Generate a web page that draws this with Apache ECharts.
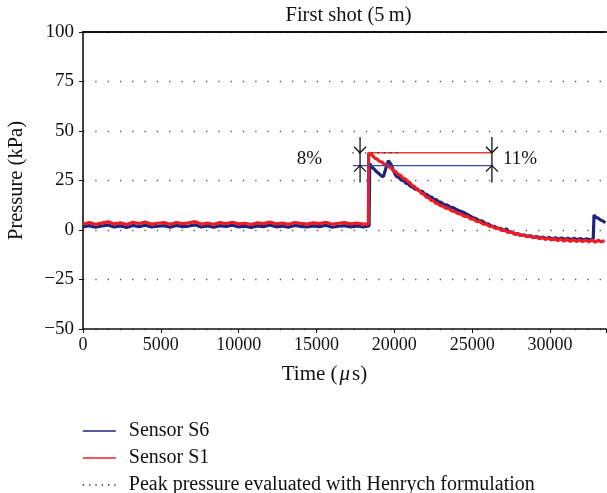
<!DOCTYPE html>
<html><head><meta charset="utf-8">
<script src="https://cdn.jsdelivr.net/npm/echarts@6/dist/echarts.min.js"></script>
<style>html,body{margin:0;padding:0;background:#fff}#c{width:607px;height:493px}</style>
</head><body><div id="c"></div>
<script>
const FONT = '"Liberation Serif", "DejaVu Serif", serif';

const yTickValues = [-50, -25, 0, 25, 50, 75, 100];
const xTickValues = [0, 5000, 10000, 15000, 20000, 25000, 30000];
const legendNames = ['Sensor S6', 'Sensor S1', 'Peak pressure evaluated with Henrych formulation'];

// Sensor S1 (red): [time µs, pressure kPa]
const sensorS1 = [
 [0,3.0],[400,3.8],[800,2.9],[1200,3.5],[1600,4.1],[2000,3.1],[2400,3.6],[2800,2.8],[3200,3.9],[3600,3.3],
 [4000,4.0],[4400,3.0],[4800,3.4],[5200,3.7],[5600,2.9],[6000,3.8],[6400,3.2],[6800,3.6],[7200,4.2],[7600,3.0],
 [8000,3.5],[8400,2.9],[8800,3.7],[9200,3.3],[9600,3.9],[10000,3.1],[10400,3.4],[10800,2.8],[11200,3.6],[11600,3.2],
 [12000,4.0],[12400,3.1],[12800,3.5],[13200,2.9],[13600,3.8],[14000,3.3],[14400,3.0],[14800,3.6],[15200,3.2],[15600,3.9],
 [16000,2.9],[16400,3.4],[16800,3.7],[17200,3.1],[17600,3.5],[18000,3.0],[18330,3.0],
 [18350,39.0],[18450,38.2],[18600,37.6],[18750,36.2],[18900,35.8],[19050,34.6],[19200,34.4],[19350,33.2],[19500,33.0],
 [19650,31.9],[19800,31.3],[19950,29.8],[20100,29.4],[20250,28.0],[20400,27.6],[20550,26.1],[20700,25.9],[20850,24.6],
 [21000,23.9],[21150,22.4],[21300,22.0],[21450,20.3],[21600,19.9],[21750,18.4],[21900,18.1],[22050,16.6],[22200,16.3],
 [22350,15.0],[22500,14.9],[22650,13.6],[22800,13.4],[22950,12.3],[23100,12.2],[23300,11.0],[23500,10.9],[23700,9.6],
 [23900,9.3],[24100,8.2],[24300,8.0],[24500,6.9],[24700,6.9],[24900,5.6],[25100,5.5],[25300,4.3],[25500,4.2],
 [25700,3.0],[25900,3.0],[26100,1.9],[26300,1.8],[26500,0.8],[26700,0.9],[26900,-0.3],[27100,-0.1],[27300,-1.2],
 [27500,-0.9],[27700,-2.0],[27900,-1.8],[28100,-2.8],[28300,-2.4],[28500,-3.4],[28700,-2.9],[28900,-3.9],[29100,-3.4],
 [29300,-4.4],[29500,-3.8],[29700,-4.8],[29900,-4.0],[30100,-5.1],[30300,-4.4],[30500,-5.4],[30700,-4.6],[30900,-5.6],
 [31100,-4.8],[31300,-5.7],[31500,-4.9],[31700,-5.8],[31900,-5.0],[32100,-5.9],[32300,-5.1],[32500,-6.0],[32700,-5.0],
 [32900,-6.1],[33100,-5.2],[33300,-6.0],[33500,-5.3]
];

// Sensor S6 (blue): [time µs, pressure kPa]
const sensorS6 = [
 [0,1.6],[400,2.2],[800,1.4],[1200,2.0],[1600,2.5],[2000,1.5],[2400,2.1],[2800,1.3],[3200,2.3],[3600,1.7],
 [4000,2.4],[4400,1.5],[4800,1.9],[5200,2.2],[5600,1.4],[6000,2.3],[6400,1.7],[6800,2.0],[7200,2.6],[7600,1.5],
 [8000,2.0],[8400,1.4],[8800,2.2],[9200,1.8],[9600,2.4],[10000,1.6],[10400,1.9],[10800,1.3],[11200,2.1],[11600,1.7],
 [12000,2.5],[12400,1.6],[12800,2.0],[13200,1.4],[13600,2.3],[14000,1.8],[14400,1.5],[14800,2.1],[15200,1.7],[15600,2.4],
 [16000,1.4],[16400,1.9],[16800,2.2],[17200,1.6],[17600,2.0],[18000,1.5],[18380,2.0],
 [18420,33.5],[18550,32.0],[18700,30.8],[18850,29.5],[19000,28.6],[19150,27.5],[19290,26.9],[19400,29.5],[19500,32.5],
 [19620,35.0],[19700,35.6],[19800,33.0],[19930,30.3],[20050,28.2],[20150,27.0],[20300,26.5],[20450,25.2],[20600,25.0],
 [20750,23.6],[20900,23.3],[21050,22.0],[21200,21.6],[21350,20.5],[21500,20.6],[21650,19.6],[21800,19.5],[21950,18.2],
 [22100,17.9],[22250,16.8],[22400,16.6],[22550,15.4],[22700,15.3],[22850,14.2],[23000,14.0],[23200,12.8],[23400,12.6],
 [23600,11.5],[23800,11.2],[23950,10.5],[24050,11.3],[24250,9.4],[24450,8.9],[24650,8.0],[24850,7.2],[25050,6.2],
 [25250,5.8],[25450,4.7],[25650,4.5],[25850,3.3],[26050,3.0],[26250,1.9],[26450,1.8],[26650,0.7],[26850,0.8],
 [27050,-0.4],[27200,0.6],[27350,-1.0],[27550,-1.1],[27750,-2.1],[27950,-1.8],[28150,-2.8],[28350,-2.5],[28550,-3.3],
 [28750,-2.9],[28950,-3.8],[29150,-3.3],[29350,-4.1],[29550,-3.6],[29750,-4.4],[29950,-3.7],[30150,-4.6],[30350,-3.9],
 [30550,-4.7],[30750,-4.0],[30950,-4.8],[31150,-4.1],[31350,-4.9],[31550,-4.2],[31750,-4.9],[31950,-4.3],[32150,-5.0],
 [32350,-4.4],[32550,-4.9],[32780,-4.5],[32830,7.6],[32950,6.3],[33100,6.0],[33250,5.0],[33400,4.6],[33550,3.6]
];

// Henrych peak pressure (dotted)
const henrychPeak = [[17300, 39], [20200, 39]];
// Reference peak levels
const s1PeakLine = [[18370, 39], [26270, 39]];
const s6PeakLine = [[17340, 32.5], [26270, 32.5]];
// Difference markers
const markerTimes = [17800, 26270];
const markerLabels = ['8%', '11%'];
const markerLevels = [39, 32.5];
const markerSpan = [24, 47];

const chart = echarts.init(document.getElementById('c'), null, {renderer: 'canvas'});

const minus = v => v < 0 ? '\u2212' + Math.abs(v) : String(v);

const legendTops = [421, 448, 475];
const legends = legendNames.map((n, i) => ({
  orient: 'horizontal', left: 82, top: legendTops[i], padding: 0,
  itemWidth: 33, itemHeight: 10,
  data: [n],
  textStyle: {fontFamily: FONT, fontSize: 20, color: '#111', lineHeight: 20, padding: [0, 0, 0, 8]},
  lineStyle: {width: 1.6},
  itemStyle: {opacity: 0},
  selectedMode: false
}));

chart.setOption({
  animation: false,
  backgroundColor: '#fff',
  textStyle: {fontFamily: FONT},
  grid: {left: 83, right: 1, top: 32, bottom: 164, show: false, containLabel: false, outerBoundsMode: 'none'},
  legend: legends,
  xAxis: [{
    type: 'value', min: 0, max: 33600, interval: 5000,
    axisLine: {show: true, onZero: false, lineStyle: {color: '#111', width: 1.6}},
    axisTick: {show: true, inside: false, length: 4, lineStyle: {color: '#111'}},
    axisLabel: {
      fontFamily: FONT, fontSize: 18, color: '#111', margin: 7,
      formatter: v => xTickValues.indexOf(v) >= 0 ? String(v) : ''
    },
    splitLine: {show: false},
    name: '{a|Time (}{b|\u03bc}{a|s)}', nameLocation: 'middle', nameGap: 35,
    nameTextStyle: {
      padding: [0, 40, 0, 0],
      rich: {
        a: {fontFamily: FONT, fontSize: 21, color: '#111'},
        b: {fontFamily: FONT, fontSize: 21, color: '#111', fontStyle: 'italic', padding: [0, 2, 0, 2]}
      }
    }
  }, {
    type: 'value', position: 'top', min: 0, max: 33600,
    axisLine: {show: true, onZero: false, lineStyle: {color: '#111', width: 2}},
    axisTick: {show: false}, axisLabel: {show: false}, splitLine: {show: false},
    name: 'First shot (5\u2009m)', nameLocation: 'middle', nameGap: 6,
    nameTextStyle: {fontFamily: FONT, fontSize: 20.5, color: '#111', padding: [0, 0, 0, 8]}
  }],
  yAxis: {
    type: 'value', min: -50, max: 100, interval: 25,
    axisLine: {show: true, onZero: false, lineStyle: {color: '#111', width: 1.6}},
    axisTick: {show: true, inside: false, length: 4, lineStyle: {color: '#111'}},
    axisLabel: {fontFamily: FONT, fontSize: 19, color: '#111', margin: 9,
      formatter: v => yTickValues.indexOf(v) >= 0 ? minus(v) : ''},
    splitLine: {show: true, lineStyle: {color: '#555', width: 1.3, type: [1.3, 11]}},
    name: 'Pressure (kPa)', nameLocation: 'middle', nameGap: 56,
    nameTextStyle: {fontFamily: FONT, fontSize: 20.5, color: '#111'}
  },
  series: [
    {
      name: 'Sensor S6', type: 'line', data: sensorS6, symbol: 'none', z: 3,
      lineStyle: {color: '#1f237a', width: 3.2}, itemStyle: {color: '#3a4a9e'}
    },
    {
      name: 'Sensor S1', type: 'line', data: sensorS1, symbol: 'none', z: 4,
      lineStyle: {color: '#ee1c24', width: 3.2}, itemStyle: {color: '#ee3a3a'}
    },
    {
      name: 'Peak pressure evaluated with Henrych formulation', type: 'line', data: henrychPeak,
      symbol: 'none', z: 6,
      lineStyle: {color: '#222', width: 1.3, type: [1.3, 5]}, itemStyle: {color: '#222'}
    },
    {
      name: 'S1 peak', type: 'line', data: s1PeakLine, symbol: 'none', z: 5,
      lineStyle: {color: '#ea3b3b', width: 1.6}
    },
    {
      name: 'S6 peak', type: 'line', data: s6PeakLine, symbol: 'none', z: 5,
      lineStyle: {color: '#3a4a9e', width: 1.4}
    },
    {
      name: 'markers', type: 'custom', z: 7,
      data: markerTimes.map((t, i) => [t, i]),
      renderItem: (params, api) => {
        const t = api.value(0), i = api.value(1);
        const top = api.coord([t, markerSpan[1]]);
        const bot = api.coord([t, markerSpan[0]]);
        const hi = api.coord([t, markerLevels[0]]);
        const lo = api.coord([t, markerLevels[1]]);
        const cx = top[0];
        const s = {stroke: '#111', lineWidth: 1.3, fill: null};
        const midY = (hi[1] + lo[1]) / 2;
        return {type: 'group', children: [
          {type: 'line', shape: {x1: cx, y1: top[1], x2: cx, y2: bot[1]}, style: s},
          {type: 'polyline', shape: {points: [[cx - 6, hi[1] - 6], [cx, hi[1]], [cx + 6, hi[1] - 6]]}, style: s},
          {type: 'polyline', shape: {points: [[cx - 6, lo[1] + 6], [cx, lo[1]], [cx + 6, lo[1] + 6]]}, style: s},
          {type: 'text', style: {
            text: markerLabels[i], x: i === 0 ? cx - 38 : cx + 11, y: midY,
            align: i === 0 ? 'right' : 'left', verticalAlign: 'middle',
            font: '19px ' + FONT, fill: '#111'
          }}
        ]};
      }
    }
  ]
});
</script></body></html>
